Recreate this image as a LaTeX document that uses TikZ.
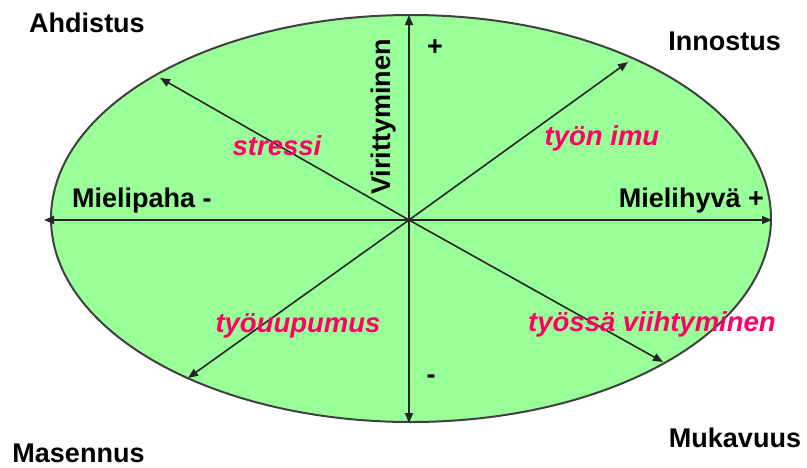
\documentclass[tikz,border=0pt]{standalone}
\usepackage{fontspec}
\setmainfont{Liberation Sans}
\usetikzlibrary{arrows.meta,shapes.geometric}
\definecolor{fillgreen}{HTML}{99FF99}
\definecolor{edgegray}{HTML}{404040}
\definecolor{pinktxt}{HTML}{FF0066}
\tikzset{
  axis/.style={line width=1.6pt, draw=black!85, -{Triangle[length=10pt,width=8pt]}},
  lbl/.style={font=\fontsize{27}{29}\selectfont\bfseries, inner sep=0pt, anchor=base},
  plbl/.style={font=\fontsize{27.5}{29}\selectfont\bfseries\itshape, text=pinktxt, inner sep=0pt, anchor=base},
}
\begin{document}
\begin{tikzpicture}[x=1pt,y=-1pt]
\useasboundingbox (0,0) rectangle (807,467);
\node[ellipse, draw=edgegray, line width=2pt, fill=fillgreen, minimum width=720pt, minimum height=407pt, inner sep=0pt, outer sep=0pt] (E) at (411,218.5) {};
\coordinate (C) at (409,220);
\coordinate (L) at (44,220);
\coordinate (R) at (772,220);
\coordinate (T) at (409,15);
\coordinate (B) at (409,423);
\coordinate (UL) at (160,78);
\coordinate (UR) at (628,62);
\coordinate (LL) at (188,378);
\coordinate (LR) at (663,362);
\draw[axis] (C) -- (L);
\draw[axis] (C) -- (R);
\draw[axis] (C) -- (T);
\draw[axis] (C) -- (B);
\draw[axis] (C) -- (UL);
\draw[axis] (C) -- (UR);
\draw[axis] (C) -- (LL);
\draw[axis] (C) -- (LR);
\node[lbl] (ahd) at (87,32) {Ahdistus};
\node[lbl] (inn) at (724.5,50) {Innostus};
\node[lbl] (mas) at (78.5,462) {Masennus};
\node[lbl] (muk) at (735,447) {Mukavuus};
\node[lbl, anchor=base west] (mpa) at (72,207) {Mielipaha -};
\node[lbl, anchor=base east] (mhy) at (764,207) {Mielihyvä +};
\node[lbl, rotate=90] (vir) at (390,117) {Virittyminen};
\node[lbl, anchor=center] (plus) at (435,48) {+};
\node[lbl, anchor=center] (minus) at (431,379) {-};
\node[plbl] (str) at (277,155) {stressi};
\node[plbl] (imu) at (602,145) {työn imu};
\node[plbl] (uup) at (298,332) {työuupumus};
\node[plbl] (vii) at (652,331) {työssä viihtyminen};
\end{tikzpicture}
\end{document}
